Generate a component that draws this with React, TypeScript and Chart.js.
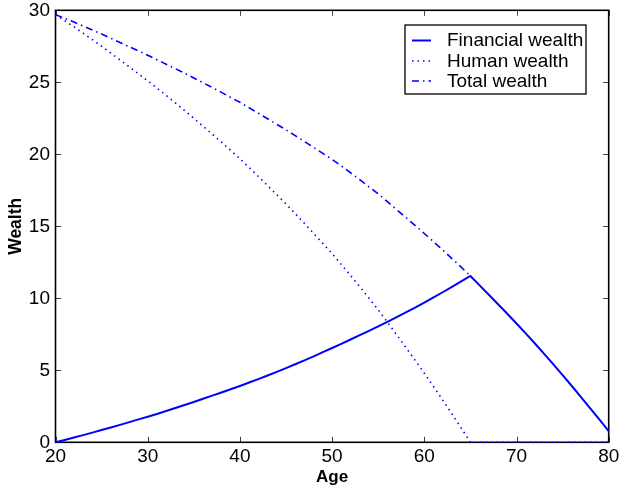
import React, { useEffect, useRef } from "react";
import { Chart, registerables } from "chart.js";

Chart.register(...registerables);

const ages = [
  20, 21, 22, 23, 24, 25, 26, 27, 28, 29, 30, 31, 32, 33, 34, 35, 36, 37, 38, 39, 40,
  41, 42, 43, 44, 45, 46, 47, 48, 49, 50, 51, 52, 53, 54, 55, 56, 57, 58, 59, 60,
  61, 62, 63, 64, 65, 66, 67, 68, 69, 70, 71, 72, 73, 74, 75, 76, 77, 78, 79, 80,
];

const financialWealth = [
  0, 0.16, 0.33, 0.5, 0.67, 0.85, 1.03, 1.21, 1.4, 1.59, 1.78, 1.97, 2.17, 2.38, 2.59, 2.8,
  3.02, 3.24, 3.46, 3.68, 3.91, 4.15, 4.39, 4.64, 4.89, 5.15, 5.42, 5.69, 5.97, 6.26, 6.55,
  6.84, 7.14, 7.44, 7.74, 8.05, 8.37, 8.69, 9.02, 9.36, 9.7, 10.06, 10.42, 10.79, 11.17, 11.55,
  10.9, 10.25, 9.59, 8.93, 8.25, 7.56, 6.86, 6.14, 5.41, 4.67, 3.91, 3.14, 2.36, 1.57, 0.78,
];

const humanWealth = [
  29.7, 29.28, 28.85, 28.41, 27.96, 27.5, 27.03, 26.55, 26.07, 25.59, 25.1, 24.6, 24.09, 23.57,
  23.04, 22.5, 21.95, 21.4, 20.84, 20.27, 19.7, 19.08, 18.46, 17.83, 17.19, 16.55, 15.88, 15.2,
  14.5, 13.8, 13.1, 12.35, 11.58, 10.8, 10.0, 9.2, 8.34, 7.47, 6.59, 5.7, 4.8, 3.87, 2.93, 1.97,
  0.99, 0, 0, 0, 0, 0, 0, 0, 0, 0, 0, 0, 0, 0, 0, 0, 0,
];

const retirementAge = 65;
const xTicks = [20, 30, 40, 50, 60, 70, 80];
const yTicks = [0, 5, 10, 15, 20, 25, 30];
const seriesNames = ["Financial wealth", "Human wealth", "Total wealth"];

const FONT = "'Liberation Sans', Arial, Helvetica, sans-serif";
const BLUE = "#0000ff";
const DOTTED = [1.5, 4];
const DASHDOT = [7, 4, 1.5, 4];

export default function App() {
  const ref = useRef<HTMLCanvasElement | null>(null);

  useEffect(() => {
    if (!ref.current) return;

    const finPts = ages.map((a, i) => ({ x: a, y: financialWealth[i] }));
    const humPts = ages.map((a, i) => ({ x: a, y: humanWealth[i] }));
    const totPts = ages
      .map((a, i) => ({ x: a, y: financialWealth[i] + humanWealth[i] }))
      .filter((p) => p.x <= retirementAge);

    const legendStyles = [
      { dash: [] as number[], width: 2 },
      { dash: DOTTED, width: 1.6 },
      { dash: DASHDOT, width: 1.6 },
    ];

    const framePlugin = {
      id: "matlabFrame",
      beforeDatasetsDraw(chart: any) {
        const { ctx, chartArea } = chart;
        const { left, right, top, bottom } = chartArea;
        const xs = chart.scales.x;
        const ys = chart.scales.y;
        ctx.save();
        ctx.strokeStyle = "#444";
        ctx.lineWidth = 1;
        const tl = 5.5;
        ctx.beginPath();
        xTicks.forEach((t) => {
          const px = Math.round(xs.getPixelForValue(t)) + 0.5;
          ctx.moveTo(px, bottom);
          ctx.lineTo(px, bottom - tl);
          ctx.moveTo(px, top);
          ctx.lineTo(px, top + tl);
        });
        yTicks.forEach((t) => {
          const py = Math.round(ys.getPixelForValue(t)) + 0.5;
          ctx.moveTo(left, py);
          ctx.lineTo(left + tl, py);
          ctx.moveTo(right, py);
          ctx.lineTo(right - tl, py);
        });
        ctx.stroke();
        ctx.strokeStyle = "#000";
        ctx.lineWidth = 1.6;
        ctx.strokeRect(left, top, right - left, bottom - top);
        ctx.restore();
      },
      afterDatasetsDraw(chart: any) {
        const { ctx } = chart;
        ctx.save();
        const lx = 405, ly = 25, lw = 181, lh = 69;
        ctx.fillStyle = "#fff";
        ctx.fillRect(lx, ly, lw, lh);
        ctx.strokeStyle = "#000";
        ctx.lineWidth = 1.3;
        ctx.strokeRect(lx, ly, lw, lh);
        const rows = [40.5, 61, 81];
        seriesNames.forEach((name, i) => {
          const y = rows[i];
          ctx.strokeStyle = BLUE;
          ctx.lineWidth = legendStyles[i].width;
          ctx.setLineDash(legendStyles[i].dash);
          ctx.beginPath();
          ctx.moveTo(412, y);
          ctx.lineTo(431, y);
          ctx.stroke();
          ctx.setLineDash([]);
          ctx.fillStyle = "#000";
          ctx.font = `19px ${FONT}`;
          ctx.textBaseline = "middle";
          ctx.textAlign = "left";
          ctx.fillText(name, 447, y + 0.5);
        });
        ctx.restore();
      },
    };

    const chart = new Chart(ref.current, {
      type: "line",
      data: {
        datasets: [
          {
            label: seriesNames[2],
            data: totPts,
            borderColor: BLUE,
            borderWidth: 1.6,
            borderDash: DASHDOT,
            pointRadius: 0,
            tension: 0,
            fill: false,
            clip: 3,
          },
          {
            label: seriesNames[1],
            data: humPts,
            borderColor: BLUE,
            borderWidth: 1.6,
            borderDash: DOTTED,
            pointRadius: 0,
            tension: 0,
            fill: false,
            clip: 3,
          },
          {
            label: seriesNames[0],
            data: finPts,
            borderColor: BLUE,
            borderWidth: 2,
            pointRadius: 0,
            tension: 0,
            fill: false,
            clip: 3,
          },
        ],
      },
      options: {
        animation: false,
        responsive: true,
        maintainAspectRatio: false,
        layout: { padding: { left: 0, top: 10.3, right: 10.3, bottom: 0 } },
        plugins: {
          legend: { display: false },
          tooltip: { enabled: false },
        },
        scales: {
          x: {
            type: "linear",
            min: 20,
            max: 80,
            afterBuildTicks: (s: any) => {
              s.ticks = xTicks.map((v) => ({ value: v }));
            },
            afterFit: (s: any) => {
              s.height = 49.7;
              s.paddingLeft = 0;
              s.paddingRight = 0;
            },
            grid: { display: false, drawTicks: false },
            border: { display: false },
            ticks: {
              color: "#000",
              padding: 3,
              maxRotation: 0,
              autoSkip: false,
              font: { family: FONT, size: 19 },
            },
            title: {
              display: true,
              text: "Age",
              color: "#000",
              padding: { top: 0, bottom: 4 },
              font: { family: FONT, size: 17, weight: "bold" },
            },
          },
          y: {
            type: "linear",
            min: 0,
            max: 30,
            afterBuildTicks: (s: any) => {
              s.ticks = yTicks.map((v) => ({ value: v }));
            },
            afterFit: (s: any) => {
              s.width = 55.5;
              s.paddingTop = 0;
              s.paddingBottom = 0;
            },
            grid: { display: false, drawTicks: false },
            border: { display: false },
            ticks: {
              color: "#000",
              padding: 5.5,
              autoSkip: false,
              font: { family: FONT, size: 19 },
            },
            title: {
              display: true,
              text: "Wealth",
              color: "#000",
              padding: { top: 6, bottom: 0 },
              font: { family: FONT, size: 17.5, weight: "bold" },
            },
          },
        },
      },
      plugins: [framePlugin],
    });

    return () => chart.destroy();
  }, []);

  return (
    <div style={{ position: "absolute", left: 0, top: 0, width: 619, height: 492, background: "#fff" }}>
      <canvas ref={ref} />
    </div>
  );
}
